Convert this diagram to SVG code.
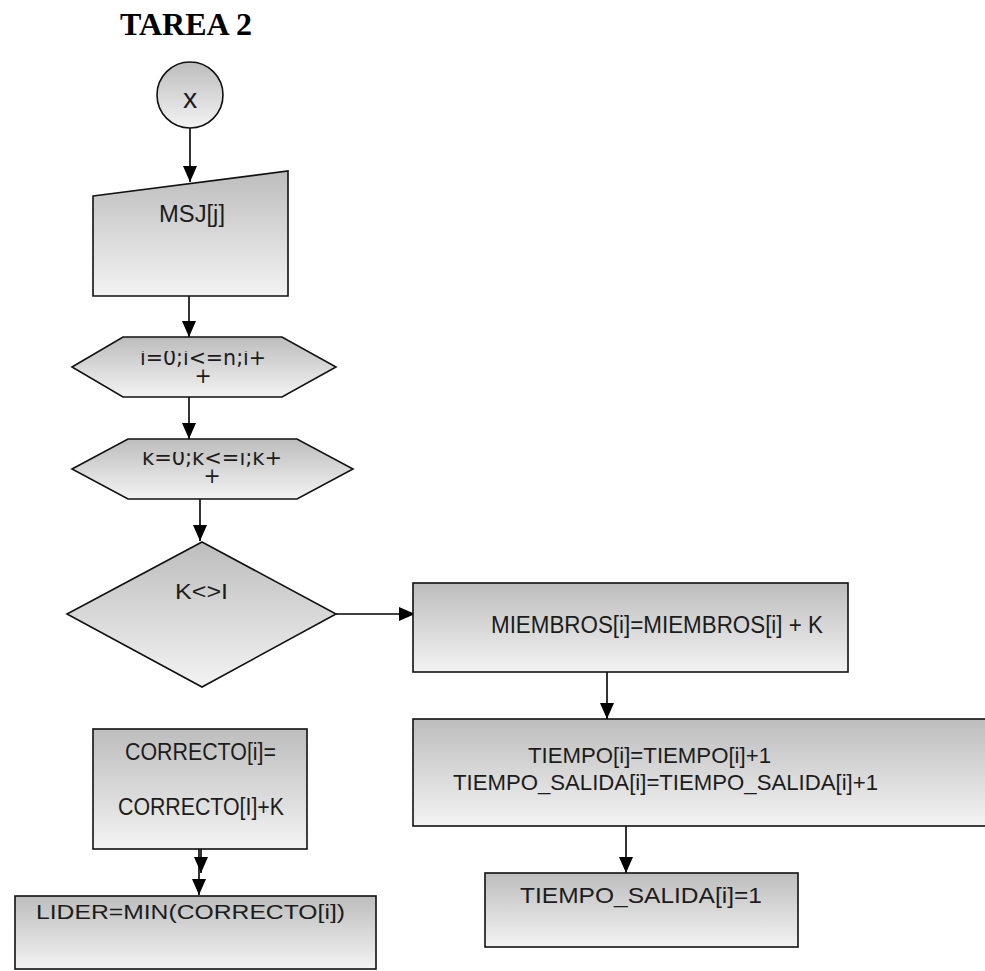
<svg xmlns="http://www.w3.org/2000/svg" width="985" height="971" viewBox="0 0 985 971">
<style>
.shape{stroke:#111;stroke-width:1.6;fill:url(#g)}
.t{font-family:"Liberation Sans",Arial,sans-serif;fill:#1c1c1c}
.h{font-family:"DejaVu Sans",Verdana,sans-serif;fill:#1c1c1c}
.c{stroke:#000;stroke-width:1.6;fill:none;marker-end:url(#ah)}
.title{font-family:"Liberation Serif","Times New Roman",serif;font-weight:bold;fill:#000}
</style>
<defs>
<linearGradient id="g" x1="0" y1="0" x2="0" y2="1">
<stop offset="0" stop-color="#bdbdbd"/>
<stop offset="1" stop-color="#f3f3f3"/>
</linearGradient>
<marker id="ah" markerUnits="userSpaceOnUse" markerWidth="16" markerHeight="16" viewBox="0 0 16 14" refX="16" refY="7" orient="auto">
<path d="M0,0 L16,7 L0,14 Z" fill="#000"/>
</marker>
<clipPath id="clip1"><rect x="60" y="351" width="300" height="60"/></clipPath>
<clipPath id="clip2"><rect x="60" y="452" width="300" height="60"/></clipPath>
</defs>
<rect width="985" height="971" fill="#fff"/>
<text class="title" x="120" y="35" style="font-size:32px">TAREA 2</text>

<g id="connectors">
<line class="c" x1="190" y1="128" x2="190" y2="182"/>
<line class="c" x1="189" y1="296" x2="189" y2="337"/>
<line class="c" x1="189" y1="397" x2="189" y2="439"/>
<line class="c" x1="200" y1="499" x2="200" y2="541"/>
<line class="c" x1="336" y1="614" x2="415" y2="614"/>
<line class="c" x1="607" y1="672" x2="607" y2="719"/>
<line class="c" x1="626" y1="826" x2="626" y2="873"/>
<line class="c" x1="201" y1="849" x2="201" y2="873"/>
<line class="c" x1="199" y1="849" x2="199" y2="895"/>
</g>

<g id="start">
<circle class="shape" cx="190" cy="95" r="33"/>
<text class="t" x="190" y="108" text-anchor="middle" style="font-size:28.5px">x</text>
</g>

<g id="input">
<polygon class="shape" points="93,196 288,171 288,296 93,296"/>
<text class="t" x="159" y="222" style="font-size:23.5px" textLength="66" lengthAdjust="spacingAndGlyphs">MSJ[j]</text>
</g>

<g id="loop-i">
<polygon class="shape" points="72,367 123,337 282,337 336,367 282,397 123,397"/>
<text class="h" style="font-size:20.5px" clip-path="url(#clip1)"><tspan x="140" y="365" textLength="126" lengthAdjust="spacingAndGlyphs">i=0;i&lt;=n;i+</tspan><tspan x="203" y="383" text-anchor="middle">+</tspan></text>
</g>

<g id="loop-k">
<polygon class="shape" points="72,469 128,439 297,439 353,469 297,499 128,499"/>
<text class="h" style="font-size:20.5px" clip-path="url(#clip2)"><tspan x="142" y="465" textLength="140" lengthAdjust="spacingAndGlyphs">k=0;k&lt;=i;k+</tspan><tspan x="212" y="483" text-anchor="middle">+</tspan></text>
</g>

<g id="decision">
<polygon class="shape" points="202,542 336,614 202,687 67,614"/>
<text class="t" x="175" y="599" style="font-size:22.5px" textLength="53" lengthAdjust="spacingAndGlyphs">K&lt;&gt;I</text>
</g>

<g id="miembros">
<rect class="shape" x="413" y="583" width="435" height="89"/>
<text class="t" x="491" y="633" style="font-size:23.3px" textLength="332" lengthAdjust="spacingAndGlyphs">MIEMBROS[i]=MIEMBROS[i] + K</text>
</g>

<g id="tiempo">
<rect class="shape" x="413" y="719" width="580" height="107"/>
<text class="t" x="528" y="763" style="font-size:22.5px" textLength="243" lengthAdjust="spacingAndGlyphs">TIEMPO[i]=TIEMPO[i]+1</text>
<text class="t" x="453" y="790" style="font-size:22.5px" textLength="425" lengthAdjust="spacingAndGlyphs">TIEMPO_SALIDA[i]=TIEMPO_SALIDA[i]+1</text>
</g>

<g id="tiempo-salida">
<rect class="shape" x="485" y="873" width="313" height="74"/>
<text class="t" x="520" y="903" style="font-size:22.5px" textLength="242" lengthAdjust="spacingAndGlyphs">TIEMPO_SALIDA[i]=1</text>
</g>

<g id="correcto">
<rect class="shape" x="93" y="729" width="214" height="120"/>
<text class="t" x="125" y="760" style="font-size:23px" textLength="151" lengthAdjust="spacingAndGlyphs">CORRECTO[i]=</text>
<text class="t" x="118" y="815" style="font-size:23px" textLength="166" lengthAdjust="spacingAndGlyphs">CORRECTO[I]+K</text>
</g>

<g id="lider">
<rect class="shape" x="15" y="896" width="361" height="73"/>
<text class="t" x="36" y="919" style="font-size:21px" textLength="309" lengthAdjust="spacingAndGlyphs">LIDER=MIN(CORRECTO[i])</text>
</g>
</svg>
